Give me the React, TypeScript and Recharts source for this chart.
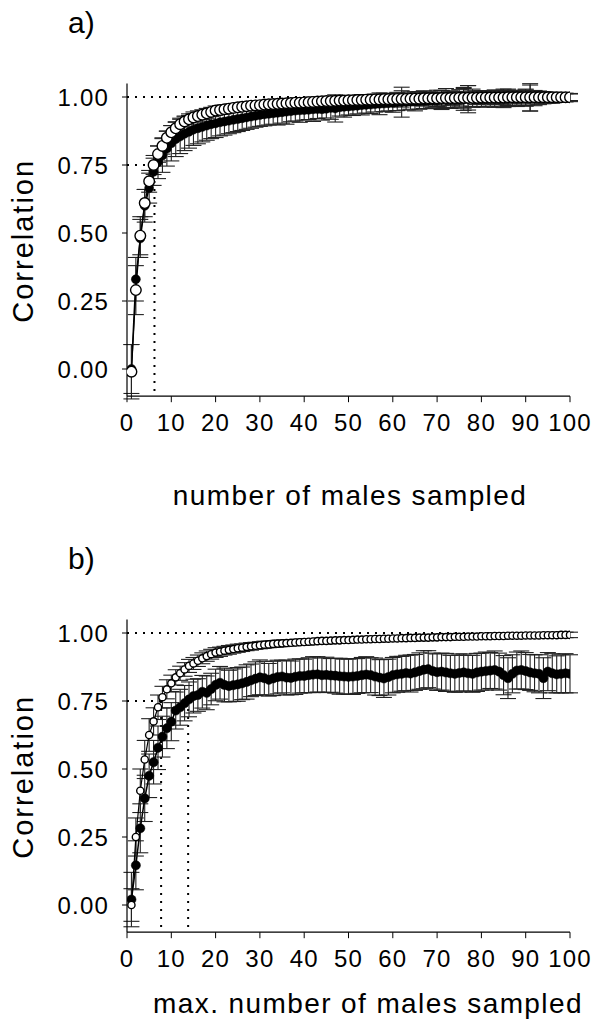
import React from "react";
import {
  ComposedChart,
  Line,
  XAxis,
  YAxis,
  ErrorBar,
  ReferenceLine,
  Label,
} from "recharts";

const FONT = '"Liberation Sans", Arial, Helvetica, sans-serif';

// sample sizes 1..100
const sampleSizes = Array.from({ length: 100 }, (_, i) => i + 1);
const xTicks = [0, 10, 20, 30, 40, 50, 60, 70, 80, 90, 100];
const yTicks = [0, 0.25, 0.5, 0.75, 1];

// panel a) — open circles
const aOpen = [
  -0.01, 0.29, 0.49, 0.61, 0.69, 0.75, 0.79, 0.82, 0.85, 0.87,
  0.885, 0.9, 0.91, 0.918, 0.925, 0.93, 0.935, 0.94, 0.945, 0.95,
  0.952, 0.955, 0.957, 0.96, 0.962, 0.964, 0.966, 0.968, 0.969, 0.97,
  0.972, 0.973, 0.974, 0.975, 0.976, 0.977, 0.978, 0.979, 0.979, 0.98,
  0.981, 0.982, 0.983, 0.984, 0.985, 0.985, 0.986, 0.987, 0.987, 0.988,
  0.988, 0.989, 0.989, 0.99, 0.99, 0.991, 0.991, 0.992, 0.992, 0.992,
  0.993, 0.993, 0.993, 0.994, 0.994, 0.994, 0.995, 0.995, 0.995, 0.995,
  0.996, 0.996, 0.996, 0.996, 0.997, 0.997, 0.997, 0.997, 0.997, 0.998,
  0.998, 0.998, 0.998, 0.998, 0.998, 0.999, 0.999, 0.999, 0.999, 0.999,
  0.999, 0.999, 0.999, 0.999, 0.999, 0.999, 0.999, 0.999, 0.999, 0.999,
];
// panel a) — filled circles
const aFill = [
  0.0, 0.33, 0.48, 0.6, 0.665, 0.725, 0.76, 0.785, 0.81, 0.83,
  0.845, 0.855, 0.865, 0.872, 0.88, 0.885, 0.89, 0.895, 0.9, 0.903,
  0.907, 0.91, 0.913, 0.916, 0.919, 0.922, 0.925, 0.928, 0.931, 0.934,
  0.936, 0.938, 0.94, 0.942, 0.944, 0.946, 0.948, 0.95, 0.951, 0.952,
  0.953, 0.955, 0.956, 0.955, 0.957, 0.96, 0.958, 0.962, 0.964, 0.965,
  0.967, 0.968, 0.97, 0.971, 0.972, 0.974, 0.975, 0.976, 0.977, 0.978,
  0.98, 0.981, 0.982, 0.983, 0.984, 0.985, 0.986, 0.987, 0.988, 0.988,
  0.989, 0.989, 0.99, 0.99, 0.991, 0.991, 0.992, 0.992, 0.993, 0.993,
  0.993, 0.994, 0.994, 0.994, 0.995, 0.995, 0.995, 0.995, 0.996, 0.996,
  0.996, 0.996, 0.997, 0.997, 0.997, 0.997, 0.998, 0.998, 0.998, 0.998,
];
const aOpenErr = [
  0.1, 0.09, 0.07, 0.05, 0.04, 0.035, 0.03, 0.03, 0.025, 0.025,
  0.022, 0.022, 0.02, 0.02, 0.02, 0.019, 0.018, 0.018, 0.017, 0.017,
  0.016, 0.016, 0.015, 0.015, 0.015, 0.014, 0.014, 0.014, 0.013, 0.013,
  0.013, 0.013, 0.012, 0.012, 0.012, 0.012, 0.012, 0.012, 0.012, 0.012,
  0.013, 0.014, 0.012, 0.015, 0.013, 0.016, 0.014, 0.015, 0.013, 0.016,
  0.018, 0.015, 0.02, 0.017, 0.016, 0.02, 0.018, 0.022, 0.02, 0.019,
  0.024, 0.03, 0.022, 0.025, 0.02, 0.026, 0.028, 0.024, 0.022, 0.03,
  0.028, 0.035, 0.026, 0.024, 0.03, 0.038, 0.045, 0.032, 0.025, 0.022,
  0.024, 0.02, 0.026, 0.022, 0.025, 0.03, 0.022, 0.02, 0.024, 0.03,
  0.05, 0.022, 0.018, 0.02, 0.016, 0.015, 0.014, 0.015, 0.013, 0.012,
];
const aFillErr = [
  0.09, 0.08, 0.07, 0.06, 0.055, 0.05, 0.06, 0.062, 0.064, 0.065,
  0.064, 0.063, 0.062, 0.06, 0.058, 0.057, 0.055, 0.054, 0.053, 0.052,
  0.05, 0.05, 0.048, 0.047, 0.046, 0.045, 0.044, 0.043, 0.042, 0.042,
  0.042, 0.041, 0.04, 0.045, 0.04, 0.046, 0.039, 0.038, 0.044, 0.037,
  0.036, 0.045, 0.035, 0.04, 0.034, 0.042, 0.05, 0.032, 0.038, 0.031,
  0.035, 0.03, 0.036, 0.03, 0.033, 0.029, 0.04, 0.03, 0.028, 0.034,
  0.03, 0.055, 0.03, 0.028, 0.035, 0.03, 0.028, 0.03, 0.026, 0.03,
  0.035, 0.028, 0.032, 0.03, 0.028, 0.04, 0.05, 0.03, 0.028, 0.03,
  0.03, 0.028, 0.032, 0.03, 0.034, 0.03, 0.028, 0.03, 0.026, 0.03,
  0.048, 0.028, 0.025, 0.022, 0.02, 0.02, 0.018, 0.018, 0.016, 0.015,
];

// panel b) — open circles
const bOpen = [
  0.0, 0.25, 0.42, 0.535, 0.625, 0.675, 0.727, 0.764, 0.793, 0.815,
  0.837, 0.852, 0.866, 0.879, 0.888, 0.898, 0.907, 0.915, 0.922, 0.928,
  0.931, 0.935, 0.938, 0.941, 0.944, 0.946, 0.949, 0.951, 0.953, 0.955,
  0.957, 0.958, 0.96, 0.961, 0.962, 0.963, 0.964, 0.965, 0.966, 0.967,
  0.968, 0.969, 0.97, 0.971, 0.971, 0.972, 0.973, 0.973, 0.974, 0.974,
  0.975, 0.976, 0.976, 0.977, 0.977, 0.978, 0.978, 0.979, 0.979, 0.98,
  0.98, 0.981, 0.981, 0.982, 0.982, 0.983, 0.983, 0.983, 0.984, 0.984,
  0.985, 0.985, 0.985, 0.986, 0.986, 0.986, 0.987, 0.987, 0.987, 0.988,
  0.988, 0.988, 0.989, 0.989, 0.989, 0.99, 0.99, 0.99, 0.99, 0.991,
  0.991, 0.991, 0.991, 0.992, 0.992, 0.992, 0.992, 0.993, 0.993, 0.993,
];
// panel b) — filled circles
const bFill = [
  0.02, 0.146, 0.282, 0.392, 0.475, 0.525, 0.578, 0.619, 0.65, 0.674,
  0.715, 0.727, 0.742, 0.756, 0.768, 0.772, 0.784, 0.78, 0.794, 0.809,
  0.817, 0.809, 0.805, 0.808, 0.811, 0.815, 0.82, 0.826, 0.832, 0.837,
  0.834, 0.828, 0.833, 0.838, 0.84, 0.836, 0.835, 0.839, 0.842, 0.842,
  0.845, 0.847, 0.848, 0.845, 0.846, 0.844, 0.843, 0.841, 0.84, 0.839,
  0.84, 0.842, 0.845, 0.847, 0.845, 0.84, 0.836, 0.833, 0.838, 0.845,
  0.848, 0.85, 0.853, 0.851, 0.855, 0.86, 0.865, 0.867, 0.86, 0.856,
  0.858, 0.855, 0.852, 0.85, 0.853, 0.855, 0.852, 0.85, 0.855, 0.858,
  0.86, 0.862, 0.864, 0.858, 0.845, 0.834, 0.85, 0.862, 0.864, 0.86,
  0.855, 0.852, 0.85, 0.834, 0.858, 0.852, 0.848, 0.85, 0.852, 0.85,
];
const bOpenErr = [
  0.06, 0.07, 0.08, 0.07, 0.06, 0.05, 0.045, 0.04, 0.035, 0.03,
  0.028, 0.026, 0.025, 0.024, 0.022, 0.021, 0.02, 0.019, 0.018, 0.018,
  0.017, 0.016, 0.016, 0.015, 0.015, 0.014, 0.014, 0.014, 0.013, 0.013,
  0.013, 0.012, 0.012, 0.012, 0.012, 0.011, 0.011, 0.011, 0.011, 0.011,
  0.011, 0.01, 0.01, 0.01, 0.01, 0.01, 0.01, 0.01, 0.01, 0.01,
  0.01, 0.01, 0.01, 0.01, 0.01, 0.01, 0.01, 0.01, 0.01, 0.01,
  0.01, 0.01, 0.01, 0.01, 0.01, 0.01, 0.01, 0.01, 0.01, 0.01,
  0.01, 0.01, 0.01, 0.01, 0.01, 0.01, 0.01, 0.01, 0.01, 0.01,
  0.01, 0.01, 0.01, 0.01, 0.01, 0.01, 0.01, 0.01, 0.01, 0.01,
  0.01, 0.01, 0.01, 0.01, 0.01, 0.01, 0.01, 0.01, 0.01, 0.01,
];
const bFillErr = [
  0.1, 0.09, 0.09, 0.085, 0.08, 0.08, 0.08, 0.075, 0.075, 0.07,
  0.068, 0.066, 0.065, 0.064, 0.062, 0.06, 0.06, 0.062, 0.058, 0.058,
  0.06, 0.062, 0.058, 0.06, 0.062, 0.06, 0.063, 0.06, 0.062, 0.064,
  0.062, 0.06, 0.063, 0.062, 0.06, 0.064, 0.062, 0.065, 0.063, 0.062,
  0.064, 0.066, 0.065, 0.063, 0.065, 0.062, 0.064, 0.066, 0.064, 0.065,
  0.066, 0.064, 0.065, 0.066, 0.064, 0.068, 0.066, 0.07, 0.066, 0.065,
  0.066, 0.064, 0.065, 0.068, 0.066, 0.067, 0.07, 0.068, 0.066, 0.067,
  0.068, 0.07, 0.066, 0.068, 0.07, 0.068, 0.066, 0.068, 0.07, 0.068,
  0.07, 0.066, 0.07, 0.068, 0.072, 0.075, 0.07, 0.068, 0.07, 0.068,
  0.066, 0.068, 0.07, 0.075, 0.07, 0.072, 0.068, 0.07, 0.072, 0.07,
];

// dotted guide lines (x where the curves reach 0.75)
const aGuideX = [6.2];
const bGuideX = [7.7, 13.8];

const PLOT_TOP = 83.4;
const PLOT_H = 312.8;
const PLOT_LEFT = 127;

const buildRows = (open: number[], fill: number[], openErr: number[], fillErr: number[]) =>
  sampleSizes.map((x, i) => ({
    x,
    open: open[i],
    fill: fill[i],
    openErr: openErr[i],
    fillErr: fillErr[i],
  }));

const dotted = { stroke: "#000", strokeWidth: 2, strokeDasharray: "2 6" };

interface PanelProps {
  rows: ReturnType<typeof buildRows>;
  height: number;
  top: number;
  letter: string;
  xTitle: string;
  xTitleX: number;
  xTitleDy: number;
  guides: number[];
  openR: number;
  fillR: number;
}

const Panel: React.FC<PanelProps> = ({ rows, height, top, letter, xTitle, xTitleX, xTitleDy, guides, openR, fillR }) => {
  const tickStyle = { fill: "#000", fontSize: 24, fontFamily: FONT, letterSpacing: 1.2 };
  return (
    <div style={{ position: "absolute", left: 0, top, width: 594, height }}>
      <div
        style={{
          position: "absolute",
          left: 68,
          top: 6,
          fontFamily: FONT,
          fontSize: 30,
          lineHeight: "34px",
          color: "#000",
        }}
      >
        {letter}
      </div>
      <ComposedChart
        width={594}
        height={height}
        data={rows}
        margin={{ top: PLOT_TOP, right: 24, bottom: 0, left: 0 }}
      >
        <XAxis
          dataKey="x"
          type="number"
          domain={[0, 100]}
          ticks={xTicks}
          interval={0}
          allowDataOverflow
          height={height - PLOT_TOP - PLOT_H}
          tickSize={6}
          tickMargin={12}
          tick={tickStyle}
          axisLine={{ stroke: "#000", strokeWidth: 1.2 }}
          tickLine={{ stroke: "#000" }}
        >
          <Label
            content={() => (
              <text
                x={xTitleX}
                y={PLOT_TOP + PLOT_H + xTitleDy}
                textAnchor="middle"
                fontFamily={FONT}
                fontSize={28}
                letterSpacing={1.4}
                fill="#000"
              >
                {xTitle}
              </text>
            )}
          />
        </XAxis>
        <YAxis
          type="number"
          domain={[-0.1, 1.05]}
          ticks={yTicks}
          allowDataOverflow
          width={PLOT_LEFT}
          tickSize={5}
          tickMargin={13}
          tickFormatter={(v: number) => v.toFixed(2)}
          tick={tickStyle}
          axisLine={{ stroke: "#000", strokeWidth: 1.2 }}
          tickLine={{ stroke: "#000" }}
        >
          <Label
            content={() => {
              const cx = 33;
              const cy = PLOT_TOP + PLOT_H / 2 + 1;
              return (
                <text
                  x={cx}
                  y={cy}
                  transform={`rotate(-90, ${cx}, ${cy})`}
                  textAnchor="middle"
                  fontFamily={FONT}
                  fontSize={29}
                  letterSpacing={2}
                  fill="#000"
                >
                  Correlation
                </text>
              );
            }}
          />
        </YAxis>

        {/* пунктирные линии */}
        <ReferenceLine
          segment={[{ x: 0, y: 1 }, { x: 100, y: 1 }]}
          ifOverflow="visible"
          {...dotted}
        />
        <ReferenceLine
          segment={[{ x: 0, y: 0.75 }, { x: guides[0], y: 0.75 }]}
          ifOverflow="visible"
          {...dotted}
        />
        {guides.map((g) => (
          <ReferenceLine
            key={g}
            segment={[{ x: g, y: 0.75 }, { x: g, y: -0.1 }]}
            ifOverflow="visible"
            {...dotted}
          />
        ))}

        {/* заполненные точки */}
        <Line
          dataKey="fill"
          type="linear"
          stroke="#000"
          strokeWidth={1.5}
          dot={{ r: fillR, fill: "#000", stroke: "#000", strokeWidth: 0.5 }}
          activeDot={false}
          isAnimationActive={false}
        >
          <ErrorBar dataKey="fillErr" direction="y" width={8} stroke="#222" strokeWidth={1.1} />
        </Line>
        {/* пустые кружки */}
        <Line
          dataKey="open"
          type="linear"
          stroke="#000"
          strokeWidth={1.2}
          dot={{ r: openR, fill: "#fff", stroke: "#000", strokeWidth: 1.4 }}
          activeDot={false}
          isAnimationActive={false}
        >
          <ErrorBar dataKey="openErr" direction="y" width={8} stroke="#222" strokeWidth={1.1} />
        </Line>
      </ComposedChart>
    </div>
  );
};

export default function App() {
  const rowsA = buildRows(aOpen, aFill, aOpenErr, aFillErr);
  const rowsB = buildRows(bOpen, bFill, bOpenErr, bFillErr);
  return (
    <div
      style={{
        position: "absolute",
        left: 0,
        top: 0,
        width: 594,
        height: 1023,
        overflow: "hidden",
        background: "#fff",
      }}
    >
      <Panel
        rows={rowsA}
        height={536}
        top={0}
        letter="a)"
        xTitle="number of males sampled"
        xTitleX={350}
        xTitleDy={109}
        guides={aGuideX}
        openR={5.3}
        fillR={4.5}
      />
      <Panel
        rows={rowsB}
        height={487}
        top={536}
        letter="b)"
        xTitle="max. number of males sampled"
        xTitleX={368}
        xTitleDy={81}
        guides={bGuideX}
        openR={3.6}
        fillR={4.6}
      />
    </div>
  );
}
